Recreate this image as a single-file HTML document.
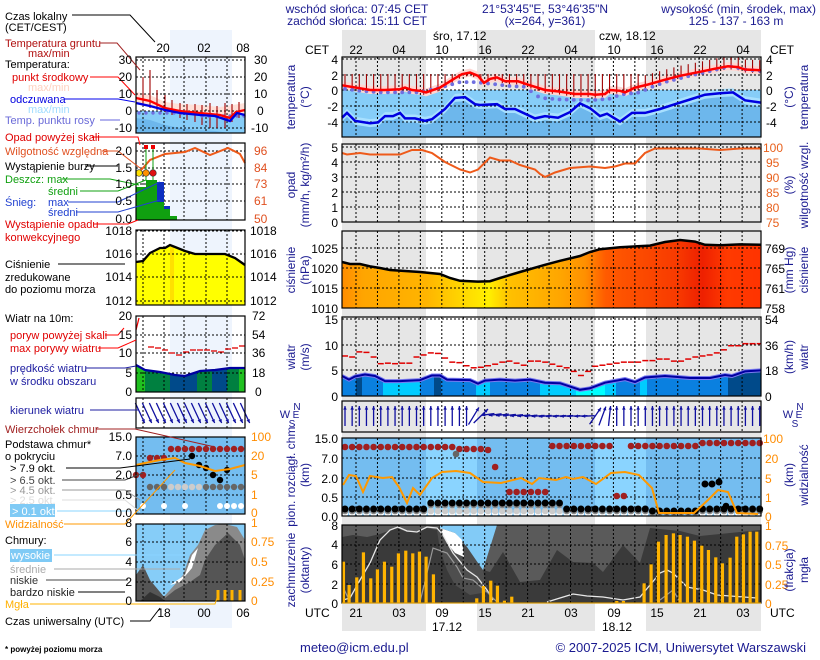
<!DOCTYPE html>
<html><head><meta charset="utf-8"><style>
html,body{margin:0;padding:0;background:#fff}
svg{display:block}
text{font-family:"Liberation Sans",sans-serif;font-size:12px}
.lg text{font-size:11px}
.n{fill:#1a1a90}.r{fill:#e00000}.o{fill:#ff8c00}
</style></head><body>
<svg id="s" width="820" height="660" viewBox="0 0 820 660" xmlns="http://www.w3.org/2000/svg">
<defs>
<linearGradient id="pg" x1="342" x2="761" y1="0" y2="0" gradientUnits="userSpaceOnUse">
<stop offset="0" stop-color="#ff8c00"/><stop offset="0.05" stop-color="#ffa500"/><stop offset="0.2" stop-color="#ffb400"/><stop offset="0.28" stop-color="#ffd400"/><stop offset="0.35" stop-color="#fff000"/><stop offset="0.4" stop-color="#ffc000"/><stop offset="0.52" stop-color="#ffa600"/><stop offset="0.58" stop-color="#ff9000"/><stop offset="0.63" stop-color="#ff5a00"/><stop offset="0.8" stop-color="#f83a00"/><stop offset="0.86" stop-color="#ee2000"/><stop offset="0.92" stop-color="#ff3a00"/><stop offset="1" stop-color="#ff3300"/>
</linearGradient>
</defs>
<g id="g"></g>
<g id="t">
<text class="n" x="357" y="13" text-anchor="middle">wschód słońca: 07:45 CET</text>
<text class="n" x="357" y="25" text-anchor="middle">zachód słońca: 15:11 CET</text>
<text class="n" x="545" y="13" text-anchor="middle">21°53'45"E, 53°46'35"N</text>
<text class="n" x="545" y="25" text-anchor="middle">(x=264,  y=361)</text>
<text class="n" x="816" y="13" text-anchor="end">wysokość (min, środek, max)</text>
<text class="n" x="736" y="25" text-anchor="middle">125 - 137 - 163 m</text>
<text x="433" y="40">śro, 17.12</text>
<text x="599" y="40">czw, 18.12</text>
<text x="305" y="54">CET</text><text x="770" y="54">CET</text>
<g text-anchor="middle">
<text x="356" y="54">22</text><text x="399" y="54">04</text><text x="442" y="54">10</text><text x="485" y="54">16</text><text x="528" y="54">22</text><text x="571" y="54">04</text><text x="614" y="54">10</text><text x="657" y="54">16</text><text x="700" y="54">22</text><text x="743" y="54">04</text>
<text x="356" y="617">21</text><text x="399" y="617">03</text><text x="442" y="617">09</text><text x="485" y="617">15</text><text x="528" y="617">21</text><text x="571" y="617">03</text><text x="614" y="617">09</text><text x="657" y="617">15</text><text x="700" y="617">21</text><text x="743" y="617">03</text>
<text x="447" y="631">17.12</text><text x="617" y="631">18.12</text>
</g>
<text x="305" y="617">UTC</text><text x="770" y="617">UTC</text>
<g text-anchor="end">
<text x="338" y="64">4</text><text x="338" y="80">2</text><text x="338" y="95">0</text><text x="338" y="111">-2</text><text x="338" y="127">-4</text>
<text x="338" y="152">5</text><text x="338" y="167">4</text><text x="338" y="182">3</text><text x="338" y="197">2</text><text x="338" y="212">1</text><text x="338" y="227">0</text>
<text x="338" y="253">1025</text><text x="338" y="273">1020</text><text x="338" y="293">1015</text><text x="338" y="313">1010</text>
<text x="338" y="324">15</text><text x="338" y="350">10</text><text x="338" y="375">5</text><text x="338" y="401">0</text>
<text x="338" y="443">15.0</text><text x="338" y="463">7.0</text><text x="338" y="483">2.0</text><text x="338" y="502">0.5</text><text x="338" y="521">0.0</text>
<text x="338" y="530">8</text><text x="338" y="569">6</text><text x="338" y="549">4</text><text x="338" y="589">2</text><text x="338" y="608">0</text>
</g>
<g>
<text x="766" y="64">4</text><text x="766" y="80">2</text><text x="766" y="95">0</text><text x="766" y="111">-2</text><text x="766" y="127">-4</text>
<g style="fill:#e8601c"><text x="763" y="152">100</text><text x="766" y="167">95</text><text x="766" y="182">90</text><text x="766" y="197">85</text><text x="766" y="212">80</text><text x="766" y="227">75</text></g>
<text x="765" y="253">769</text><text x="765" y="273">765</text><text x="765" y="293">761</text><text x="765" y="313">758</text>
<text x="765" y="324">54</text><text x="765" y="350">36</text><text x="765" y="375">18</text><text x="765" y="401">0</text>
<g class="o"><text x="763" y="443">100</text><text x="765" y="463">20</text><text x="765" y="483">5</text><text x="765" y="502">1</text><text x="765" y="521">0</text>
<text x="765" y="530">1</text><text x="765" y="550">0.75</text><text x="765" y="569">0.5</text><text x="765" y="589">0.25</text><text x="765" y="608">0</text></g>
</g>
<g class="n" text-anchor="middle">
<text transform="translate(295,97) rotate(-90)">temperatura</text><text transform="translate(309,97) rotate(-90)">(°C)</text>
<text transform="translate(295,185) rotate(-90)">opad</text><text transform="translate(309,185) rotate(-90)">(mm/h, kg/m²/h)</text>
<text transform="translate(295,270) rotate(-90)">ciśnienie</text><text transform="translate(309,270) rotate(-90)">(hPa)</text>
<text transform="translate(295,357) rotate(-90)">wiatr</text><text transform="translate(309,357) rotate(-90)">(m/s)</text>
<text transform="translate(295,475) rotate(-90)">pion. rozciągł. chm.</text><text transform="translate(309,475) rotate(-90)">(km)</text>
<text transform="translate(295,570) rotate(-90)">zachmurzenie</text><text transform="translate(309,570) rotate(-90)">(oktanty)</text>
<text transform="translate(793,97) rotate(-90)">(°C)</text><text transform="translate(808,97) rotate(-90)">temperatura</text>
<text transform="translate(793,185) rotate(-90)">(%)</text><text transform="translate(808,185) rotate(-90)">wilgotność wzgl.</text>
<text transform="translate(793,270) rotate(-90)">(mm Hg)</text><text transform="translate(808,270) rotate(-90)">ciśnienie</text>
<text transform="translate(793,357) rotate(-90)">(km/h)</text><text transform="translate(808,357) rotate(-90)">wiatr</text>
<text transform="translate(793,475) rotate(-90)">(km)</text><text transform="translate(808,475) rotate(-90)">widzialność</text>
<text transform="translate(793,570) rotate(-90)">(frakcja)</text><text transform="translate(808,570) rotate(-90)">mgła</text>
<text x="297" y="410" style="font-size:10px">N</text><text x="285" y="418" style="font-size:11px">W</text><text x="296" y="418" style="font-size:10px">E</text><text x="292" y="427" style="font-size:10px">S</text>
<text x="800" y="410" style="font-size:10px">N</text><text x="788" y="418" style="font-size:11px">W</text><text x="799" y="418" style="font-size:10px">E</text><text x="795" y="427" style="font-size:10px">S</text>
</g>
<text class="n" x="300" y="652" style="font-size:13px">meteo@icm.edu.pl</text>
<text class="n" x="806" y="652" text-anchor="end" style="font-size:13px">© 2007-2025 ICM, Uniwersytet Warszawski</text>
<text x="5" y="652" style="font-size:8px;font-weight:bold">* powyżej poziomu morza</text>
<g class="lg">
<text x="5" y="20">Czas lokalny</text><text x="5" y="31">(CET/CEST)</text>
<text x="5" y="47" style="fill:#b01010">Temperatura gruntu</text><text x="28" y="57" style="fill:#b01010">max/min</text>
<text x="5" y="68">Temperatura:</text>
<text x="12" y="81" class="r">punkt środkowy</text>
<text x="28" y="91" style="fill:#ffd2c0">max/min</text>
<text x="10" y="103" style="fill:#0000e0">odczuwana</text>
<text x="28" y="113" style="fill:#a0dcff">max/min</text>
<text x="5" y="124" style="fill:#6a6ad8">Temp. punktu rosy</text>
<text x="5" y="141" class="r">Opad powyżej skali</text>
<text x="5" y="155" style="fill:#e05020">Wilgotność względna</text>
<text x="5" y="170">Wystąpienie burzy</text>
<text x="5" y="183" style="fill:#10a010">Deszcz: max</text><text x="48" y="195" style="fill:#10a010">średni</text>
<text x="5" y="206" style="fill:#2040d0">Śnieg:</text><text x="48" y="206" style="fill:#2040d0">max</text><text x="48" y="216" style="fill:#2040d0">średni</text>
<text x="5" y="228" class="r">Wystąpienie opadu</text><text x="5" y="241" class="r">konwekcyjnego</text>
<text x="5" y="268">Ciśnienie</text><text x="5" y="281">zredukowane</text><text x="5" y="293">do poziomu morza</text>
<text x="5" y="322">Wiatr na 10m:</text>
<text x="10" y="339" class="r">poryw powyżej skali</text><text x="10" y="352" class="r">max porywy wiatru</text>
<text x="10" y="372" style="fill:#1c1ca0">prędkość wiatru</text><text x="10" y="385" style="fill:#1c1ca0">w środku obszaru</text>
<text x="10" y="414" style="fill:#1c1ca0">kierunek wiatru</text>
<text x="5" y="433" style="fill:#a02020">Wierzchołek chmur</text>
<text x="5" y="448">Podstawa chmur*</text><text x="5" y="460">o pokryciu</text>
<text x="10" y="472">&gt; 7.9 okt.</text>
<text x="10" y="484" style="fill:#444">&gt; 6.5 okt.</text>
<text x="10" y="494" style="fill:#999">&gt; 4.5 okt.</text>
<text x="10" y="504" style="fill:#ddd">&gt; 2.5 okt.</text>
<rect x="10" y="504" width="45" height="13" fill="#7fcaf5"/>
<text x="12" y="515" style="fill:#fff">&gt; 0.1 okt.</text>
<text x="5" y="528" style="fill:#ff9000">Widzialność</text>
<text x="5" y="544">Chmury:</text>
<rect x="10" y="549" width="42" height="13" fill="#7fcaf5"/>
<text x="11" y="559" style="fill:#fff">wysokie</text>
<text x="10" y="573" style="fill:#aaa">średnie</text>
<text x="10" y="584" style="fill:#333">niskie</text>
<text x="10" y="596" style="fill:#222">bardzo niskie</text>
<text x="5" y="608" style="fill:#ffb000">Mgła</text>
<text x="5" y="625">Czas uniwersalny (UTC)</text>
</g>
<g text-anchor="middle"><text x="163" y="52">20</text><text x="204" y="52">02</text><text x="243" y="52">08</text>
<text x="164" y="617">18</text><text x="204" y="617">00</text><text x="243" y="617">06</text></g>
<g text-anchor="end">
<text x="132" y="64">30</text><text x="132" y="81">20</text><text x="132" y="98">10</text><text x="132" y="115">0</text><text x="132" y="132">-10</text>
<text x="132" y="155">2.0</text><text x="132" y="172">1.5</text><text x="132" y="188">1.0</text><text x="132" y="205">0.5</text><text x="132" y="223">0.0</text>
<text x="132" y="235">1018</text><text x="132" y="258">1016</text><text x="132" y="281">1014</text><text x="132" y="305">1012</text>
<text x="132" y="320">20</text><text x="132" y="339">15</text><text x="132" y="357">10</text><text x="132" y="377">5</text><text x="132" y="396">0</text>
<text x="132" y="441">15.0</text><text x="132" y="460">7.0</text><text x="132" y="479">2.0</text><text x="132" y="499">0.5</text><text x="132" y="517">0.0</text>
<text x="132" y="527">8</text><text x="132" y="546">6</text><text x="132" y="566">4</text><text x="132" y="586">2</text><text x="132" y="605">0</text>
</g>
<g>
<text x="254" y="64">30</text><text x="254" y="81">20</text><text x="254" y="98">10</text><text x="257" y="115">0</text><text x="251" y="132">-10</text>
<g style="fill:#e05020"><text x="254" y="155">96</text><text x="254" y="172">84</text><text x="254" y="188">73</text><text x="254" y="205">61</text><text x="254" y="223">50</text></g>
<text x="250" y="235">1018</text><text x="250" y="258">1016</text><text x="250" y="281">1014</text><text x="250" y="305">1012</text>
<text x="252" y="320">72</text><text x="252" y="339">54</text><text x="252" y="357">36</text><text x="252" y="377">18</text><text x="255" y="396">0</text>
<g class="o"><text x="251" y="441">100</text><text x="251" y="460">20</text><text x="251" y="479">5</text><text x="251" y="499">1</text><text x="251" y="517">0</text>
<text x="251" y="527">1</text><text x="251" y="546">0.75</text><text x="251" y="566">0.5</text><text x="251" y="586">0.25</text><text x="251" y="605">0</text></g>
</g>
</g>
</svg>
<script>
const NS='http://www.w3.org/2000/svg',G=document.getElementById('g');
function el(t,a,p){const e=document.createElementNS(NS,t);for(const k in a)e.setAttribute(k,a[k]);(p||G).appendChild(e);return e;}
function P(a,f){let s=[];for(let i=0;i<a.length;i+=2)s.push(a[i]+','+f(a[i+1]).toFixed(1));return s.join(' ');}
function I(a,x){if(x<=a[0])return a[1];for(let i=0;i<a.length-2;i+=2){if(x<=a[i+2]){const t=(x-a[i])/(a[i+2]-a[i]);return a[i+1]+t*(a[i+3]-a[i+1]);}}return a[a.length-1];}
const id=v=>v;
const X0=342,X1=761,W=X1-X0,HX=7.15;
el('rect',{x:X0,y:30,width:W,height:601,fill:'#e6e6e6'});
el('rect',{x:426,y:30,width:51,height:601,fill:'#fff'});
el('rect',{x:595,y:30,width:51,height:601,fill:'#fff'});
el('rect',{x:170,y:30,width:62,height:598,fill:'#eef4fd'});
function grid(y0,y1,hy,x0,x1,vx){
  vx.forEach(x=>el('line',{x1:x,x2:x,y1:y0,y2:y1,stroke:'#000','stroke-dasharray':'2,2','stroke-width':1}));
  hy.forEach(y=>el('line',{x1:x0,x2:x1,y1:y,y2:y,stroke:'#000','stroke-dasharray':'2,2','stroke-width':1}));
}
function box(x0,y0,x1,y1){el('rect',{x:x0,y:y0,width:x1-x0,height:y1-y0,fill:'none',stroke:'#000','stroke-width':1.2});}
const VX=[];for(let k=0;k<19;k++)VX.push(356+k*21.45);
const ty=v=>90-v*7.9;
const R=[342,.6,356,.3,370,0,385,0,400,.1,405,.3,412,0,420,-.1,426,-.3,440,.3,455,1.5,462,2,470,2.2,478,1.8,484,.9,490,1.4,497,1.6,505,1.1,518,1.1,530,.6,545,0,560,-.2,575,-.5,590,-.5,595,-.6,605,-.5,610,0,620,-.1,625,-.3,635,.3,648,.7,665,1.3,680,1.8,700,2.3,715,2.7,728,3,738,2.9,745,2.6,761,2.5];
const B=[342,-3.5,347,-2.9,355,-3.9,370,-4.2,378,-4.1,385,-3.3,393,-3.3,400,-2.9,405,-3.6,415,-3.6,425,-3.9,432,-3.7,445,-2.4,455,-1,465,-.9,475,-1.8,480,-1.9,497,-1.8,505,-2.4,515,-2.4,535,-3.6,545,-3.3,558,-3.5,570,-2.8,580,-1.7,590,-2.3,600,-3.3,607,-3,620,-4,632,-2.9,645,-2.9,660,-2.4,675,-1.8,690,-1.2,705,-.6,720,-.4,733,-.3,745,-1.3,761,-1.6];
const D=[342,.2,360,-.1,380,-.3,420,-.3,440,.3,460,1,475,1,490,.8,510,.5,525,.4,540,-1,560,-1.2,590,-1.3,610,-1.1,620,-.6,640,-.3,650,.3,665,1,690,1.8,710,2.4,730,3,745,2.6,761,2.4];
el('rect',{x:X0,y:90,width:W,height:47,fill:'#86cdf8'});
el('polygon',{points:P(B,ty)+' 761,137 342,137',fill:'#6db7ec'});
function band(a,f,d,c){let up=[],dn=[];for(let i=0;i<a.length;i+=2){up.push(a[i]+','+(f(a[i+1])-d));dn.unshift(a[i]+','+(f(a[i+1])+d));}el('polygon',{points:up.concat(dn).join(' '),fill:c});}
band(R,ty,4,'#ffd6d2');band(B,ty,4,'#a8e0ff');
grid(57,137,[59,75,90,106,122],X0,X1,VX);
for(let x=X0+3;x<X1;x+=HX){const yr=ty(I(R,x));const top=x<640?74:yr-10;el('line',{x1:x,x2:x,y1:top,y2:yr+3,stroke:'#a00000','stroke-width':1.1});}
for(let x=X0+3;x<X1;x+=HX){el('circle',{cx:x,cy:ty(I(D,x)),r:1.9,fill:'#6f6fe0'});}
el('polyline',{points:P(R,ty),fill:'none',stroke:'#ff0000','stroke-width':2.5});
el('polyline',{points:P(B,ty),fill:'none',stroke:'#0000e0','stroke-width':2.5});
box(X0,57,X1,137);
const py=v=>222-v*15;
const H=[342,4.6,347,4.5,360,4.6,370,4.5,400,4.5,412,4.8,422,4.8,432,4.6,445,4,460,3.5,470,3.3,478,3.5,490,4.3,500,4.1,510,4.1,520,3.8,535,3.5,540,3.2,545,3,555,3.3,570,3.6,590,3.7,605,3.6,615,3.7,625,3.9,635,3.9,645,4.6,655,4.9,700,4.9,720,4.8,740,4.9,761,4.9];
grid(144,222,[147,162,177,192,207],X0,X1,VX);
el('polyline',{points:P(H,py),fill:'none',stroke:'#ee5a1a','stroke-width':2});
box(X0,144,X1,222);
const ry=v=>308-(v-1010)*4;
const PR=[342,1021.5,350,1021,360,1021,370,1020.4,380,1020,390,1019.5,420,1019,440,1018.5,450,1017.5,460,1016.8,478,1016.6,490,1016.7,500,1017.5,520,1019,545,1020.8,560,1021.8,580,1023,590,1024,600,1024.7,620,1025.2,650,1025.6,665,1026.5,680,1027,695,1026.6,705,1025.8,720,1025.7,740,1025.9,761,1025.8];
el('polygon',{points:P(PR,ry)+' 761,308 342,308',fill:'url(#pg)'});
grid(231,308,[248,268,288],X0,X1,VX);
el('polyline',{points:P(PR,ry),fill:'none',stroke:'#000','stroke-width':2.5});
box(X0,231,X1,308);
const wy=v=>396-v*5.13;
const WS=[342,3.9,349,3.2,355,3.8,365,4.2,375,3.9,385,2.9,400,2.9,420,3.1,432,4,440,4,447,3.2,470,3.1,478,2.4,485,3,500,3.2,515,3,530,3.2,545,2.6,560,2.5,580,1.2,590,1.5,605,2.6,625,3.3,635,2.7,645,3.6,665,3.9,690,3.5,710,3.5,725,4.1,732,3.9,745,4.8,761,5];
const cp=el('clipPath',{id:'wc'});el('polygon',{points:P(WS,wy)+' 761,396 342,396'},cp);
const wg=el('g',{'clip-path':'url(#wc)'});
[[342,356,'#0a80e0'],[356,362,'#004a8a'],[362,383,'#0a80e0'],[383,420,'#00ccff'],[420,434,'#0a80e0'],[434,441,'#004a8a'],[441,476,'#0a80e0'],[476,490,'#00ccff'],[490,540,'#0a80e0'],[540,576,'#00ccff'],[576,605,'#00ffff'],[605,616,'#00ccff'],[616,640,'#0a80e0'],[640,647,'#00ccff'],[647,728,'#0a80e0'],[728,761,'#004a8a']].forEach(s=>el('rect',{x:s[0],y:317,width:s[1]-s[0],height:80,fill:s[2]},wg));
grid(317,396,[319,345,370],X0,X1,VX);
const GU=[7.8,7.6,8.6,8.5,7.6,6.3,6.4,6.3,6.4,6.4,7.6,8,8.4,8.3,7.4,6.6,6.5,5.9,5.5,5.6,5.9,6.2,6.6,6.8,6.4,6,6.8,6.8,6.6,6.2,5.8,5.5,4.8,4,4.8,5.8,6,6.2,6.4,6.6,6.6,6.6,6.9,6.9,7.2,7.2,6.8,6.8,7.2,7.6,7.8,8,8.4,9,9.8,9.8,10.2,10.2,10.2];
GU.forEach((v,i)=>{const x=X0+i*HX;if(x<X1)el('line',{x1:x,x2:Math.min(x+6,X1),y1:wy(v),y2:wy(v),stroke:'#e00000','stroke-width':1.5});});
el('polyline',{points:P(WS,wy),fill:'none',stroke:'#7a7af0','stroke-width':4});
el('polyline',{points:P(WS,wy),fill:'none',stroke:'#0000a0','stroke-width':2});
box(X0,317,X1,396);
grid(401,432,[],X0,X1,VX);
function arrow(cx,cy,ang,len,col){const a=ang*Math.PI/180,dx=Math.sin(a)*len/2,dy=-Math.cos(a)*len/2;
 el('line',{x1:cx-dx,y1:cy-dy,x2:cx+dx,y2:cy+dy,stroke:col,'stroke-width':1.3});
 const hx=cx+dx,hy=cy+dy,b=a+Math.PI;const l=4;
 el('polygon',{points:`${hx},${hy} ${hx+Math.sin(b-0.45)*l},${hy-Math.cos(b-0.45)*l} ${hx+Math.sin(b+0.45)*l},${hy-Math.cos(b+0.45)*l}`,fill:col});}
for(let x=X0+3;x<X1;x+=HX){let a=0;
 if(x>468&&x<482)a=20+(x-468)*2;else if(x>=482&&x<590)a=-98+(x-482)*0.05;else if(x>=590&&x<612)a=45-(x-590)*2;
 if(x>=482&&x<590){arrow(x,416+(x<540?-(540-x)*0.03:0),a,13,'#1010a0');}else arrow(x,416,a,20,'#1010a0');}
box(X0,401,X1,432);
el('rect',{x:X0,y:438,width:W,height:78,fill:'#74bdf0'});
el('rect',{x:426,y:438,width:51,height:78,fill:'#8ad4ff'});
el('rect',{x:595,y:438,width:51,height:78,fill:'#8ad4ff'});
grid(438,516,[458,478,497],X0,X1,VX);
for(let x=X0+3;x<X1;x+=HX){let by=(x>430&&x<560)?503:509;if(x>650&&x<700)by=511;
 el('circle',{cx:x,cy:513,r:3.3,fill:'#fff'});el('circle',{cx:x,cy:511,r:3.3,fill:'#ccc'});el('circle',{cx:x,cy:by+2,r:3.3,fill:'#888'});el('circle',{cx:x,cy:by,r:3.5,fill:'#000'});}
function rdots(x0,x1,y){for(let x=X0+3;x<X1;x+=HX)if(x>=x0&&x<=x1)el('circle',{cx:x,cy:y,r:3.3,fill:'#a02020'});}
rdots(342,456,447);rdots(458,485,449);rdots(486,493,450);rdots(494,500,467);rdots(503,548,492);rdots(552,612,446);rdots(614,624,496);rdots(628,697,446);rdots(700,761,443);
el('circle',{cx:456,cy:454,r:3.3,fill:'#666'});
[705,712,719].forEach(x=>el('circle',{cx:x,cy:x==719?482:484,r:3.5,fill:'#000'}));
el('circle',{cx:726,cy:506,r:3.3,fill:'#000'});
const VI=[343,485,349,475,356,476,363,492,370,476,383,478,392,477,399,487,407,503,413,488,420,495,432,478,442,472,456,471,470,473,483,482,501,483,521,478,532,484,539,478,556,480,566,477,573,479,583,477,596,484,611,473,625,472,639,475,652,488,659,513,694,513,708,500,718,490,728,492,737,513,758,514];
el('polyline',{points:P(VI,id),fill:'none',stroke:'#ff9900','stroke-width':2});
box(X0,438,X1,516);
el('rect',{x:X0,y:525,width:W,height:78,fill:'#3a3a3a'});
el('polygon',{points:'342,525 440,525 437,530 427,528 417,531 407,532 397,528 380,534 367,537 353,535 342,537',fill:'#5c5c5c'});
el('polygon',{points:'437,530 455,533 467,547 483,570 488,592 470,595 455,585 447,570 440,550',fill:'#4e4e4e'});
el('polygon',{points:'497,525 761,525 761,530 740,532 720,534 700,536 680,531 650,528 640,563 623,545 603,572 593,563 573,562 557,550 540,580 520,582 503,552 490,572 483,570',fill:'#5a5a5a'});
el('polygon',{points:'440,525 497,525 483,570 478,563 467,547 455,533 440,528',fill:'#82cbf7'});
el('polygon',{points:'440,528 455,533 462,540 464,557 455,553 447,543',fill:'#fff'});
el('polyline',{points:'343,600 350,598 360,580 370,563 380,540 390,530 398,527 407,531 417,532 427,527 437,528 443,535 453,553 467,570 477,577 487,590 493,600',fill:'none',stroke:'#e8e8e8','stroke-width':1.3});
el('polyline',{points:'547,602 560,598 573,594 587,596 603,597 623,600 640,597 660,573 667,570 673,573 687,587 703,590 717,595 757,598',fill:'none',stroke:'#e8e8e8','stroke-width':1.3});
el('polyline',{points:'343,587 350,602',fill:'none',stroke:'#999','stroke-width':1.2});
el('polyline',{points:'420,602 433,548 447,553 457,567 463,578 473,580 487,592 497,602',fill:'none',stroke:'#999','stroke-width':1.2});
el('polyline',{points:'660,600 673,590 680,602',fill:'none',stroke:'#999','stroke-width':1.2});
grid(525,603,[545,564,584],X0,X1,VX);
const FB=[10,125,27,195,50,172,70,97,92,175,112,148,133,125,155,140,175,100,197,92,218,100,238,95,258,110,280,163,410,235,430,198,452,182,472,197,493,242,515,230,830,243,850,243,912,190,933,133,955,65,978,45,1000,40,1020,45,1042,50,1063,62,1085,77,1105,90,1127,112,1147,130,1170,113,1190,50,1210,43,1230,35,1250,35];
for(let i=0;i<FB.length;i+=2){const x=340+FB[i]/3,y=520+FB[i+1]/3;el('rect',{x:x-1.5,y:y,width:3.2,height:603-y,fill:'#ffb300'});}
box(X0,525,X1,603);
el('line',{x1:342,x2:761,y1:603,y2:603,stroke:'#ffb300','stroke-width':1});
const LX0=136,LX1=245,LV=[143,164,184,206,227];
el('rect',{x:LX0,y:111,width:109,height:22,fill:'#86cdf8'});
el('polygon',{points:'136,118 150,120 165,125 180,128 195,130 215,131 230,133 136,133',fill:'#6db7ec'});
el('polygon',{points:'136,92 150,95 165,102 180,104 200,105 220,107 245,103 245,114 225,118 200,115 180,114 160,110 136,102',fill:'#ffe0d8'});
grid(57,133,[60,77,94,111,128],LX0,LX1,LV);
[[143,77,106],[150,70,108],[157,90,110],[165,95,112],[172,100,115],[180,103,118],[187,104,120],[195,104,122],[202,105,125],[210,103,128],[217,106,128],[225,103,128],[232,104,122],[239,102,118]].forEach(a=>el('line',{x1:a[0],x2:a[0],y1:a[1],y2:a[2],stroke:'#a00000','stroke-width':1.1}));
for(let x=139;x<245;x+=7)el('circle',{cx:x,cy:113+(x>200?3:0),r:1.7,fill:'#6f6fe0'});
el('polyline',{points:'136,98 150,101 165,108 180,111 200,113 220,115 230,118 236,112 245,110',fill:'none',stroke:'#f00','stroke-width':2.3});
el('polyline',{points:'136,103 150,106 165,110 180,113 200,115 215,116 230,121 237,113 245,115',fill:'none',stroke:'#0000e0','stroke-width':2.3});
box(LX0,57,LX1,133);
grid(143,220,[151,168,184,201],LX0,LX1,LV);
el('rect',{x:136,y:187,width:10,height:33,fill:'#10a010'});el('rect',{x:146,y:180,width:11,height:40,fill:'#10a010'});
el('rect',{x:157,y:182,width:7,height:20,fill:'#1030c0'});el('rect',{x:157,y:202,width:7,height:18,fill:'#10a010'});
el('rect',{x:164,y:206,width:6,height:3,fill:'#1030c0'});el('rect',{x:164,y:209,width:6,height:11,fill:'#10a010'});el('rect',{x:170,y:216,width:7,height:4,fill:'#10a010'});
el('polyline',{points:'136,175 143,168 150,160 165,154 185,152 195,148 210,155 228,148 240,154 245,163',fill:'none',stroke:'#ee5a1a','stroke-width':2});
[[146,'#e00'],[153,'#e00']].forEach(a=>{el('line',{x1:a[0],x2:a[0],y1:147,y2:180,stroke:'#10a010'});el('rect',{x:a[0]-2,y:145,width:4,height:4,fill:a[1]});});
[[139,'#ffe000'],[146,'#ff9000'],[153,'#e01010']].forEach(a=>el('circle',{cx:a[0],cy:173,r:3.3,fill:a[1],stroke:'#333','stroke-width':0.6}));
box(LX0,143,LX1,220);
el('polygon',{points:'136,262 143,261 150,253 160,248 165,248 170,245 175,247 185,251 195,254 225,254 235,258 245,265 245,305 136,305',fill:'#ffff00'});
el('rect',{x:170,y:247,width:4,height:58,fill:'#ffe000'});
grid(230,305,[231,254,277,301],LX0,LX1,LV);
el('polyline',{points:'136,262 143,261 150,253 160,248 165,248 170,245 175,247 185,251 195,254 225,254 235,258 245,265',fill:'none',stroke:'#000','stroke-width':2.3});
box(LX0,230,LX1,305);
const lcp=el('clipPath',{id:'lw'});const LWS='136,365 145,370 160,372 175,375 185,376 200,371 215,370 230,368 245,368';
el('polygon',{points:LWS+' 245,392 136,392'},lcp);const lg=el('g',{'clip-path':'url(#lw)'});
[[136,145,'#20c020'],[145,170,'#008040'],[170,197,'#004a8a'],[197,212,'#008040'],[212,227,'#004a8a'],[227,239,'#008040'],[239,245,'#20c020']].forEach(s=>el('rect',{x:s[0],y:316,width:s[1]-s[0],height:77,fill:s[2]},lg));
grid(316,392,[335,353,373],LX0,LX1,LV);
[[148,347],[155,348],[162,350],[169,353],[176,355],[183,352],[190,350],[197,350],[204,350],[211,351],[218,352],[225,349],[232,348],[239,346]].forEach(a=>el('line',{x1:a[0],x2:a[0]+6,y1:a[1],y2:a[1],stroke:'#e00000','stroke-width':1.3}));
el('polyline',{points:'136,330 139,318',fill:'none',stroke:'#e00','stroke-width':1.3});
el('polyline',{points:LWS,fill:'none',stroke:'#0000a0','stroke-width':2.3});
box(LX0,316,LX1,392);
grid(398,428,[],LX0,LX1,LV);
for(let x=140;x<248;x+=7)arrow(x,413,155,22,'#1010a0');
box(LX0,398,LX1,428);
el('rect',{x:LX0,y:437,width:109,height:77,fill:'#74bdf0'});
grid(437,514,[456,475,495],LX0,LX1,LV);
for(let x=171;x<246;x+=7)el('circle',{cx:x,cy:449,r:3.2,fill:'#a02020'});
[150,157,164].forEach(x=>el('circle',{cx:x,cy:458,r:3.2,fill:'#a02020'}));
[136,143].forEach(x=>el('circle',{cx:x,cy:475,r:3.2,fill:'#a02020'}));
for(let x=150;x<246;x+=7)el('circle',{cx:x,cy:487,r:3.2,fill:x>165&&x<200?'#ccc':'#666'});
[192,199,206,213,220,227].forEach((x,i)=>el('circle',{cx:x,cy:[456,465,468,475,480,470][i],r:3.2,fill:'#000'}));
[143,164,185,220,227,234,241].forEach(x=>el('circle',{cx:x,cy:506,r:3,fill:'#fff'}));
el('polyline',{points:'136,465 145,463 160,460 175,458 185,463 200,466 215,471 230,469 245,465',fill:'none',stroke:'#ff9900','stroke-width':2});
box(LX0,437,LX1,514);
el('rect',{x:LX0,y:524,width:109,height:77,fill:'#86cdf8'});
el('polygon',{points:'160,601 170,590 183,575 190,555 198,545 205,530 215,525 225,524 237,527 245,540 245,601',fill:'#8a8a8a'});
el('polygon',{points:'170,585 185,575 192,555 198,548 192,568 180,582',fill:'#fff'});
el('polygon',{points:'136,601 136,575 143,565 150,580 165,598 175,590 190,582 200,575 205,560 215,545 228,533 240,545 245,560 245,601',fill:'#555'});
el('polygon',{points:'140,601 150,592 160,597 165,601',fill:'#333'});
grid(524,601,[542,562,582],LX0,LX1,LV);
[218,225,232,240].forEach(x=>el('rect',{x:x-1.5,y:590,width:3,height:11,fill:'#ffb300'}));
box(LX0,524,LX1,601);
const L=(p,c)=>el('polyline',{points:p,fill:'none',stroke:c||'#000','stroke-width':1});
L('72,15 130,15 155,42');L('100,43 117,43 140,70','#a02020');L('90,77 118,77 135,95','#f00');
L('64,99 118,99 135,102','#00e');L('100,120 120,120','#66d');L('92,137 138,137 140,145','#f00');
L('102,151 118,151 140,168','#e05020');L('85,166 118,166');L('62,179 110,179 139,185','#10a010');
L('80,191 118,191 146,180','#10a010');L('68,202 118,202 160,182','#2040d0');L('76,212 118,212 160,200','#2040d0');
L('94,224 128,224 138,220','#f00');L('58,264 125,264');L('105,335 118,335 124,328','#f00');L('98,348 118,348 136,340','#f00');
L('86,368 125,368 136,366','#1c1ca0');L('90,410 138,410','#1c1ca0');L('96,429 135,429 215,447','#a02020');
L('66,468 120,468 190,459');L('62,480 125,480 143,473','#444');L('62,490 125,490 140,500','#999');
L('62,500 125,500 140,512','#ddd');L('57,511 130,511','#8ad4ff');L('64,524 125,524 175,470','#ff9900');
L('54,555 185,555','#8ad4ff');L('54,569 180,569','#aaa');L('46,580 118,580 128,580','#444');L('78,592 125,592');
L('30,604 215,604 218,595','#ffb300');L('130,621 150,621 160,608');
</script>
</body></html>
